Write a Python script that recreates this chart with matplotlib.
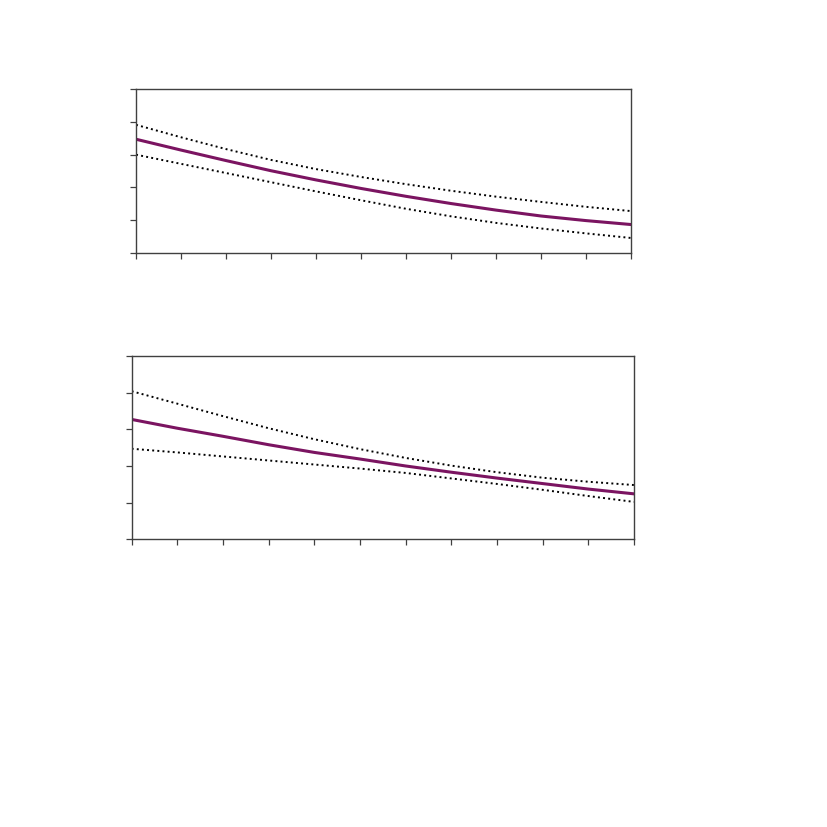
import matplotlib
matplotlib.use('Agg')
import matplotlib.pyplot as plt

# x positions (tick steps along the axis)
x = [0, 1, 2, 3, 4, 5, 6, 7, 8, 9, 10, 11]

# top panel: central estimate and its upper / lower bounds
top_mid = [3.47, 3.14, 2.82, 2.51, 2.23, 1.97, 1.73, 1.51, 1.31, 1.13, 0.99, 0.87]
top_hi = [3.91, 3.53, 3.17, 2.84, 2.56, 2.32, 2.10, 1.90, 1.72, 1.56, 1.41, 1.28]
top_lo = [3.00, 2.72, 2.44, 2.16, 1.88, 1.61, 1.35, 1.12, 0.92, 0.75, 0.60, 0.46]

# bottom panel
bot_mid = [3.27, 3.03, 2.81, 2.58, 2.37, 2.19, 2.00, 1.83, 1.67, 1.52, 1.37, 1.24]
bot_hi = [4.04, 3.70, 3.36, 3.03, 2.73, 2.46, 2.22, 2.01, 1.83, 1.68, 1.57, 1.48]
bot_lo = [2.47, 2.37, 2.26, 2.15, 2.04, 1.93, 1.81, 1.66, 1.51, 1.35, 1.18, 1.02]

fig = plt.figure(figsize=(8.27, 8.27), dpi=100)
ax1 = fig.add_axes([0.1645, 0.694, 0.5985, 0.1983])
ax2 = fig.add_axes([0.1592, 0.3479, 0.6074, 0.2216])

purple = '#7b1461'

for ax, mid, hi, lo in [(ax1, top_mid, top_hi, top_lo), (ax2, bot_mid, bot_hi, bot_lo)]:
    ax.plot(x, hi, color='black', linestyle=':', linewidth=1.4)
    ax.plot(x, lo, color='black', linestyle=':', linewidth=1.4)
    ax.plot(x, mid, color=purple, linewidth=2.2)
    ax.set_xlim(0, 11)
    ax.set_ylim(0, 5)
    ax.set_xticks(range(12))
    ax.set_yticks(range(6))
    ax.set_xticklabels([])
    ax.set_yticklabels([])
    ax.tick_params(axis='both', direction='out', length=4, width=0.9, color='#404040')
    for s in ax.spines.values():
        s.set_color('#404040')
        s.set_linewidth(1.0)

fig.savefig('out.png', dpi=100)
